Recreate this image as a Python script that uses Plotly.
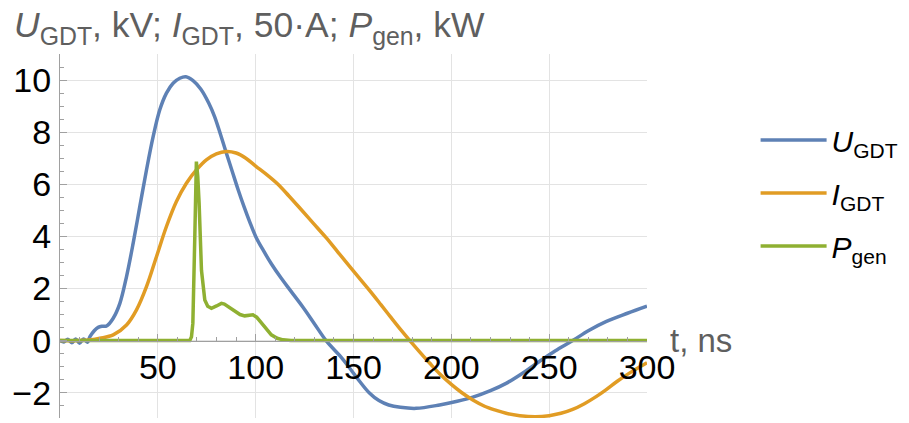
import plotly.graph_objects as go

# ---- data ----
t_u = [0, 2, 4, 6, 8, 10, 12, 14, 15.3, 17.5, 19.5, 21.5, 23.8, 27.2, 30.6, 34, 37.4, 40.8, 44.2,
       47.6, 51, 54.4, 57.8, 61.2, 64.3, 68, 72, 76, 79, 82, 85, 88, 91, 94, 97, 100, 104, 108, 113,
       118, 124, 130, 136, 143, 148, 153, 158, 163, 168, 174, 182, 194, 203, 211, 220, 228,
       236, 245, 253, 262, 270, 279, 290, 300]
u_gdt = [0.0, -0.05, 0.05, -0.08, 0.06, -0.1, 0.06, -0.06, 0.15, 0.38, 0.51, 0.55, 0.56, 0.86,
         1.43, 2.46, 3.74, 5.15, 6.55, 7.83, 8.86, 9.5, 9.88, 10.07, 10.13, 9.98, 9.65, 9.12, 8.6,
         7.92, 7.2, 6.5, 5.8, 5.15, 4.55, 4.0, 3.45, 2.95, 2.4, 1.9, 1.3, 0.65, 0.0, -0.58, -1.05,
         -1.55, -2.0, -2.3, -2.47, -2.56, -2.6, -2.47, -2.33, -2.17, -1.92, -1.64, -1.27, -0.8,
         -0.4, 0.0, 0.38, 0.73, 1.05, 1.32]

t_i = [0, 10, 16, 20.4, 27.2, 34, 39.1, 44.2, 49.3, 54.4, 59.5, 64.6, 69.7, 74.8, 79.9, 85, 90,
       95, 100, 105.5, 111.4, 117, 123, 129.5, 136, 142, 148, 153.5, 158.5, 164, 169, 174, 178.8,
       184, 189, 194, 200, 205.4, 211, 217, 223, 228, 235, 243, 250, 256, 262, 268, 274, 279, 285,
       292, 300]
i_gdt = [0.0, 0.0, 0.03, 0.09, 0.22, 0.6, 1.18, 2.07, 3.22, 4.38, 5.34, 6.04, 6.55, 6.94, 7.17,
         7.26, 7.2, 7.0, 6.7, 6.38, 6.0, 5.55, 5.05, 4.5, 3.95, 3.4, 2.85, 2.35, 1.9, 1.38, 0.9,
         0.43, 0.0, -0.45, -0.87, -1.27, -1.68, -2.0, -2.28, -2.52, -2.68, -2.79, -2.88, -2.92,
         -2.88, -2.79, -2.64, -2.42, -2.15, -1.89, -1.55, -1.2, -0.85]

t_p = [0, 20, 40, 55, 62, 65, 66.3, 67.2, 67.9, 68.9, 69.7, 70.4, 71.1, 72.3, 73.2, 74.0, 75.5,
       77.4, 80, 82.5, 84, 86, 89.3, 92, 94.4, 96.5, 98.6, 100.5, 102.9, 105.5, 108, 111, 114, 118,
       125, 150, 200, 250, 300]
p_gen = [0, 0, 0, 0, 0, 0, 0.0, 0.15, 0.67, 4.0, 6.87, 6.3, 5.27, 2.7, 1.9, 1.56, 1.32, 1.24, 1.33,
         1.43, 1.4, 1.3, 1.11, 1.0, 0.95, 0.96, 0.99, 0.9, 0.67, 0.42, 0.22, 0.09, 0.03, 0.0, 0, 0,
         0, 0, 0]

names = ["<i>U</i><sub>GDT</sub>", "<i>I</i><sub>GDT</sub>", "<i>P</i><sub>gen</sub>"]
colors = ["#5E81B5", "#E19C24", "#8FB032"]

x_range = [0, 300]
y_range = [-2.97, 11.0]
x_ticks = [50, 100, 150, 200, 250, 300]
y_ticks = [-2, 0, 2, 4, 6, 8, 10]

FONT = "Liberation Sans, Arial, sans-serif"

fig = go.Figure()
series = [(t_u, u_gdt, "spline"), (t_i, i_gdt, "spline"), (t_p, p_gen, "linear")]
for i, (tx, vy, shp) in enumerate(series):
    line = dict(color=colors[i], width=3.5, shape=shp)
    if shp == "spline":
        line["smoothing"] = 1.0
    fig.add_trace(go.Scatter(x=tx, y=vy, mode="lines", name=names[i],
                             legendgroup=str(i), line=line, hoverinfo="skip"))

pos0 = (0 - y_range[0]) / (y_range[1] - y_range[0])

fig.update_layout(
    width=909, height=423,
    margin=dict(l=60, r=260, t=54, b=5),
    paper_bgcolor="white", plot_bgcolor="white",
    font=dict(family=FONT, size=34, color="black"),
    showlegend=True,
    legend=dict(x=1.185, xanchor="left", y=0.835, yanchor="top",
                font=dict(size=30, color="black"), tracegroupgap=11,
                itemwidth=66, bgcolor="rgba(0,0,0,0)"),
    title=dict(text="<i>U</i><sub>GDT</sub>, kV; <i>I</i><sub>GDT</sub>, 50·A; <i>P</i><sub>gen</sub>, kW",
               x=14 / 909, xanchor="left", xref="container",
               y=1 - 25 / 423, yanchor="middle", yref="container",
               font=dict(size=35.5, color="#5f5f5f", family=FONT)),
    xaxis=dict(range=x_range, tickvals=x_ticks, anchor="free", position=pos0,
               showline=True, linecolor="#a0a0a0", linewidth=1.2,
               ticks="inside", ticklen=7, tickcolor="#a0a0a0",
               showgrid=True, gridcolor="#e3e3e3", gridwidth=1, zeroline=False,
               ticklabelstandoff=-4,
               minor=dict(tick0=0, dtick=10, ticks="inside", ticklen=4, tickcolor="#a0a0a0", showgrid=False)),
    yaxis=dict(range=y_range, tickvals=y_ticks,
               showline=True, linecolor="#a0a0a0", linewidth=1.2,
               ticks="inside", ticklen=7, tickcolor="#a0a0a0",
               showgrid=True, gridcolor="#e3e3e3", gridwidth=1, zeroline=False,
               ticklabelstandoff=1,
               minor=dict(tick0=0, dtick=0.5, ticks="inside", ticklen=4, tickcolor="#a0a0a0", showgrid=False)),
)

fig.add_annotation(text="t, ns", x=1, xref="paper", xanchor="left", xshift=21,
                   y=0, yref="y", yanchor="middle", showarrow=False,
                   font=dict(size=33, color="#5f5f5f", family=FONT))

fig.write_html("out.html", config={"displayModeBar": False},
               post_script="document.body.style.margin='0px';")
